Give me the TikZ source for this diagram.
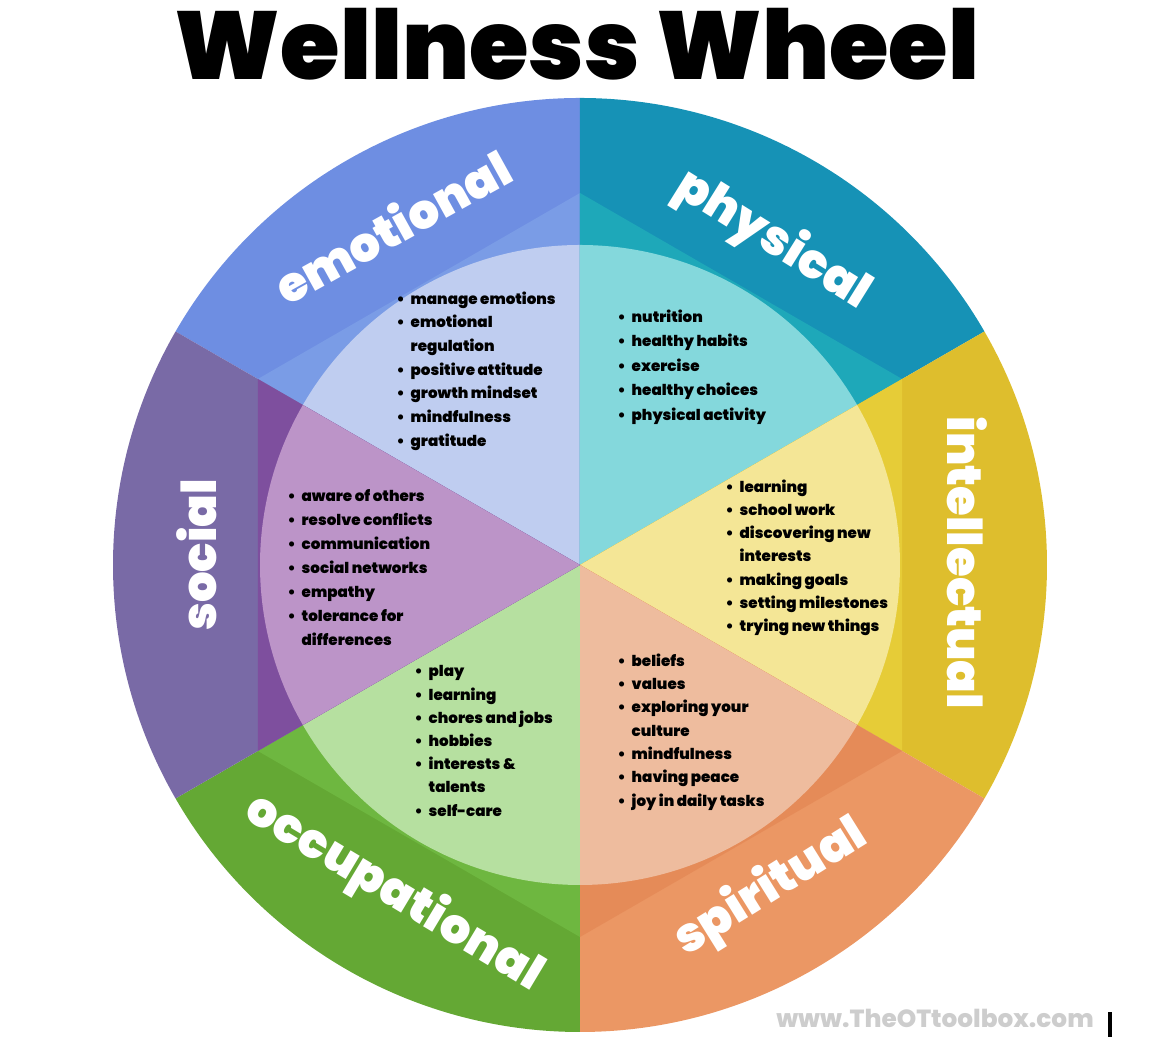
\documentclass[tikz,border=0pt]{standalone}
\usepackage{fontspec}
\setmainfont{Poppins}
\newfontfamily\titlefont{Poppins Black}
\newfontfamily\labelfont{Poppins ExtraBold}

% outer ring / hexagon band / inner disc
\definecolor{emoO}{RGB}{110,142,226}
\definecolor{emoM}{RGB}{122,156,230}
\definecolor{emoI}{RGB}{191,205,240}
\definecolor{phyO}{RGB}{22,146,182}
\definecolor{phyM}{RGB}{30,168,185}
\definecolor{phyI}{RGB}{132,216,220}
\definecolor{intO}{RGB}{222,190,45}
\definecolor{intM}{RGB}{230,204,55}
\definecolor{intI}{RGB}{244,230,150}
\definecolor{spiO}{RGB}{235,151,100}
\definecolor{spiM}{RGB}{229,139,88}
\definecolor{spiI}{RGB}{238,188,158}
\definecolor{occO}{RGB}{100,168,52}
\definecolor{occM}{RGB}{110,183,64}
\definecolor{occI}{RGB}{182,224,160}
\definecolor{socO}{RGB}{121,106,166}
\definecolor{socM}{RGB}{126,79,158}
\definecolor{socI}{RGB}{188,148,200}
\definecolor{markgray}{RGB}{205,205,205}

\newcommand{\bu}{\makebox[0.14cm][l]{\textbullet}}
\newcommand{\nb}{\hspace*{0.14cm}}

\tikzset{
  wedge label/.style={text=white, inner sep=0pt, font=\titlefont\fontsize{13.7}{15}\selectfont},
  item list/.style={anchor=north west, align=left, inner sep=0pt, font=\titlefont\fontsize{4.3}{#1}\selectfont},
  item list/.default=6.7,
}

\begin{document}
\begin{tikzpicture}
  \useasboundingbox (-5.80,-4.81) rectangle (5.86,5.65);

  % wheel
  \foreach \a/\colA/\colB/\colC in {90/emoO/emoM/emoI, 30/phyO/phyM/phyI,
      -30/intO/intM/intI, -90/spiO/spiM/spiI, -150/occO/occM/occI, 150/socO/socM/socI}{
    \fill[\colA] (0,0) -- (\a:4.67) arc[start angle=\a, delta angle=60, radius=4.67] -- cycle;
    \fill[\colB] (0,0) -- (\a:3.72) -- ({\a+60}:3.72) -- cycle;
    \fill[\colC] (0,0) -- (\a:3.20) arc[start angle=\a, delta angle=60, radius=3.20] -- cycle;
  }

  \node[anchor=base, inner sep=0pt, font=\titlefont\fontsize{27.4}{30}\selectfont] (title) at (-0.03,4.85) {Wellness Wheel};

  % sector names
  \node[wedge label, rotate=29] (emo) at (-1.88,3.39) {emotional};
  \node[wedge label, rotate=-32] (phy) at (1.93,3.25) {physical};
  \node[wedge label, rotate=-90] (int) at (3.87,0.02) {intellectual};
  \node[wedge label, rotate=32] (spi) at (1.91,-3.23) {spiritual};
  \node[wedge label, rotate=-31] (occ) at (-1.86,-3.28) {occupational};
  \node[wedge label, rotate=90] (soc) at (-3.83,0.10) {social};

  % lists
  \node[item list=6.74] (emolist) at (-1.84,2.74) {\bu manage emotions\\ \bu emotional\\ \nb regulation\\
    \bu positive attitude\\ \bu growth mindset\\ \bu mindfulness\\ \bu gratitude};
  \node[item list=6.97] (phylist) at (0.37,2.56) {\bu nutrition\\ \bu healthy habits\\ \bu exercise\\
    \bu healthy choices\\ \bu physical activity};
  \node[item list=6.6] (intlist) at (1.45,0.86) {\bu learning\\ \bu school work\\ \bu discovering new\\
    \nb interests\\ \bu making goals\\ \bu setting milestones\\ \bu trying new things};
  \node[item list=6.83] (soclist) at (-2.93,0.76) {\bu aware of others\\ \bu resolve conflicts\\ \bu communication\\
    \bu social networks\\ \bu empathy\\ \bu tolerance for\\ \nb differences};
  \node[item list=6.6] (occlist) at (-1.66,-1.00) {\bu play\\ \bu learning\\ \bu chores and jobs\\
    \bu hobbies\\ \bu interests \&\\ \nb talents\\ \bu self-care};
  \node[item list=6.63] (spilist) at (0.37,-0.88) {\bu beliefs\\ \bu values\\ \bu exploring your\\
    \nb culture\\ \bu mindfulness\\ \bu having peace\\ \bu joy in daily tasks};

  \node[text=markgray, inner sep=0pt, font=\labelfont\fontsize{7.05}{8}\selectfont] (mark) at (3.55,-4.53) {www.TheOTtoolbox.com};
  \fill[black] (5.28,-4.47) rectangle (5.32,-4.72);
\end{tikzpicture}
\end{document}
